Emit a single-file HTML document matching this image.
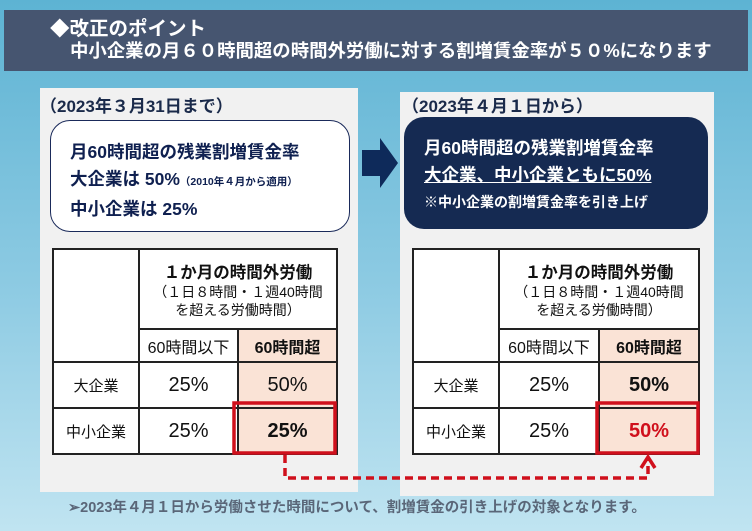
<!DOCTYPE html>
<html><head><meta charset="utf-8"><style>
*{margin:0;padding:0;box-sizing:border-box}
body{width:752px;height:531px;overflow:hidden;position:relative;font-family:"Liberation Sans","Noto Sans CJK JP",sans-serif;background:linear-gradient(#5db3d3,#8ecbe3 55%,#c0e4f1)}
.a{position:absolute}
.t{border-collapse:collapse;position:absolute;background:#fff;table-layout:fixed}
.t td{border:2px solid #222;text-align:center;color:#111;font-size:16px}
.pk{background:#fae3d6}
</style></head><body>
<div class="a" style="left:4px;top:10px;width:744px;height:61px;background:#465570"></div>
<div class="a" style="left:50px;top:12px;color:#fff;font-size:19.5px;font-weight:bold">◆改正のポイント</div>
<div class="a" style="left:70px;top:37px;color:#fff;font-size:18.4px;font-weight:bold;white-space:nowrap">中小企業の月６０時間超の時間外労働に対する割増賃金率が５０%になります</div>

<div class="a" style="left:40px;top:88px;width:318px;height:404px;background:#f1f1f1"></div>
<div class="a" style="left:400px;top:92px;width:314px;height:404px;background:#f1f1f1"></div>
<div class="a" style="left:40px;top:92px;font-size:17px;font-weight:bold;color:#1a2a4a">（2023年３月31日まで）</div>
<div class="a" style="left:402px;top:92px;font-size:17px;font-weight:bold;color:#1a2a4a">（2023年４月１日から）</div>

<div class="a" style="left:50px;top:120px;width:300px;height:112px;background:#fff;border:1.5px solid #1a2a5a;border-radius:20px;padding:18px 0 0 19px;color:#0f2050;font-weight:bold;font-size:17.5px;line-height:27px">
<div>月60時間超の残業割増賃金率</div>
<div>大企業は 50%<span style="font-size:10.5px">（2010年４月から適用）</span></div>
<div>中小企業は 25%</div></div>

<svg class="a" style="left:360px;top:135px" width="42" height="56"><polygon points="2,15 20,15 20,3 38,28 20,53 20,41 2,41" fill="#0e2a5a"/></svg>

<div class="a" style="left:404px;top:117px;width:304px;height:112px;background:#152a52;border-radius:20px;padding:18px 0 0 20px;color:#fff;font-weight:bold;font-size:17.5px;line-height:27px">
<div>月60時間超の残業割増賃金率</div>
<div style="text-decoration:underline">大企業、中小企業ともに50%</div>
<div style="font-size:14px">※中小企業の割増賃金率を引き上げ</div></div>

<table class="t" style="left:52px;top:248px;width:284px">
<colgroup><col style="width:86px"><col style="width:99px"><col style="width:99px"></colgroup>
<tr style="height:80px"><td rowspan="2"></td><td colspan="2"><div style="font-weight:bold;font-size:16.5px">１か月の時間外労働</div><div style="font-size:14px;line-height:18px">（１日８時間・１週40時間<br>を超える労働時間）</div></td></tr>
<tr style="height:33px"><td>60時間以下</td><td class="pk" style="font-weight:bold">60時間超</td></tr>
<tr style="height:46px"><td style="font-size:15px">大企業</td><td style="font-size:20px">25%</td><td class="pk" style="font-size:20px">50%</td></tr>
<tr style="height:46px"><td style="font-size:15px">中小企業</td><td style="font-size:20px">25%</td><td class="pk" style="font-size:20px;font-weight:bold">25%</td></tr>
</table>
<table class="t" style="left:412px;top:248px;width:286px">
<colgroup><col style="width:86px"><col style="width:100px"><col style="width:100px"></colgroup>
<tr style="height:80px"><td rowspan="2"></td><td colspan="2"><div style="font-weight:bold;font-size:16.5px">１か月の時間外労働</div><div style="font-size:14px;line-height:18px">（１日８時間・１週40時間<br>を超える労働時間）</div></td></tr>
<tr style="height:33px"><td>60時間以下</td><td class="pk" style="font-weight:bold">60時間超</td></tr>
<tr style="height:46px"><td style="font-size:15px">大企業</td><td style="font-size:20px">25%</td><td class="pk" style="font-size:20px;font-weight:bold">50%</td></tr>
<tr style="height:46px"><td style="font-size:15px">中小企業</td><td style="font-size:20px">25%</td><td class="pk" style="font-size:20px;font-weight:bold;color:#d0101c">50%</td></tr>
</table>

<svg class="a" style="left:0;top:0" width="752" height="531">
<rect x="234" y="403" width="101" height="50" fill="none" stroke="#d0101c" stroke-width="3.5"/>
<rect x="597" y="403" width="101" height="50" fill="none" stroke="#d0101c" stroke-width="3.5"/>
<polyline points="285,455 285,478 648,478 648,460" fill="none" stroke="#d0101c" stroke-width="3.5" stroke-dasharray="8,5"/>
<polyline points="641,468 648,457 655,468" fill="none" stroke="#d0101c" stroke-width="3.5"/>
</svg>

<div class="a" style="left:68px;top:496px;font-size:14.5px;font-weight:bold;color:#5a6678;white-space:nowrap">➢2023年４月１日から労働させた時間について、割増賃金の引き上げの対象となります。</div>
</body></html>
